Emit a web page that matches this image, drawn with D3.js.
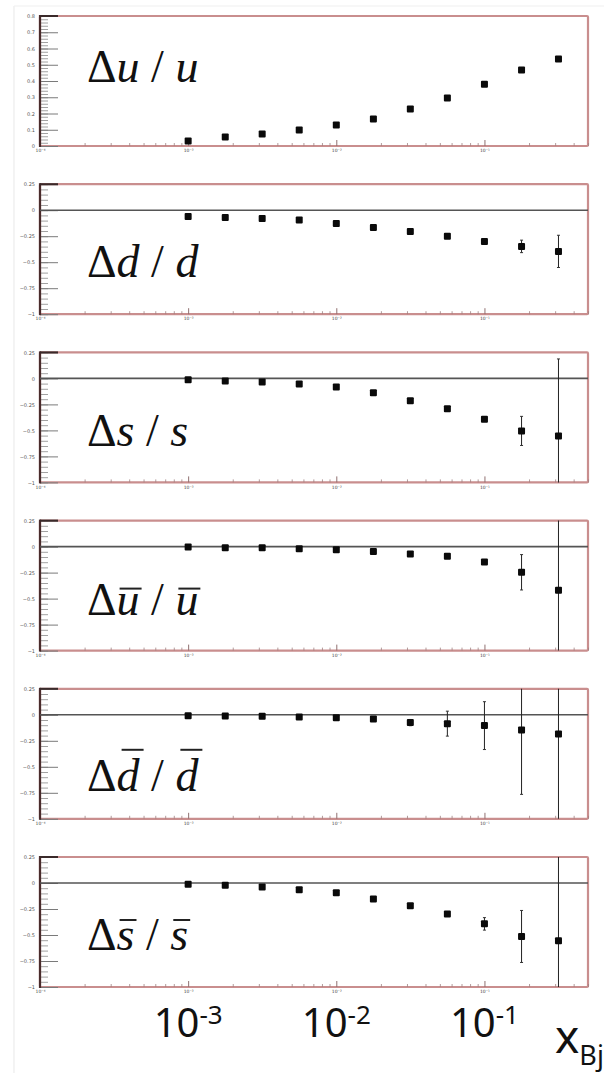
<!DOCTYPE html>
<html>
<head>
<meta charset="utf-8">
<script src="https://cdn.jsdelivr.net/npm/d3@7"></script>
<style>
  html, body { margin: 0; padding: 0; background: #fff; }
  svg { display: block; }
</style>
</head>
<body>
<svg id="chart" width="604" height="1073"></svg>
<script>
// Bjorken-x bins shared by every panel
const xBj = [0.001, 0.00178, 0.00316, 0.00562, 0.01, 0.0178, 0.0316, 0.0562, 0.1, 0.178, 0.316];

// Panel titles: base letter and whether it carries an antiquark bar
const panelLetters = ["u", "d", "s", "u", "d", "s"];
const panelBars = [false, false, false, true, true, true];

// Relative variations per flavour
const du_u   = [0.031, 0.055, 0.074, 0.098, 0.129, 0.166, 0.228, 0.295, 0.380, 0.468, 0.535];
const dd_d   = [-0.060, -0.070, -0.079, -0.095, -0.128, -0.167, -0.205, -0.251, -0.302, -0.348, -0.396];
const ds_s   = [-0.014, -0.024, -0.034, -0.053, -0.082, -0.139, -0.216, -0.293, -0.392, -0.505, -0.553];
const dub_ub = [-0.004, -0.010, -0.012, -0.020, -0.030, -0.048, -0.070, -0.093, -0.147, -0.247, -0.420];
const ddb_db = [-0.010, -0.012, -0.015, -0.020, -0.028, -0.040, -0.075, -0.085, -0.104, -0.145, -0.184];
const dsb_sb = [-0.013, -0.022, -0.039, -0.064, -0.093, -0.155, -0.219, -0.297, -0.393, -0.514, -0.555];

// Uncertainties (0 = no visible bar)
const err_u   = [0, 0, 0, 0, 0, 0, 0, 0, 0, 0, 0];
const err_d   = [0, 0, 0, 0, 0, 0, 0, 0, 0, 0.06, 0.155];
const err_s   = [0, 0, 0, 0, 0, 0, 0, 0, 0, 0.14, 0.74];
const err_ub  = [0, 0, 0, 0, 0, 0, 0, 0, 0, 0.17, 1.0];
const err_db  = [0, 0, 0, 0, 0, 0, 0.03, 0.12, 0.23, 0.62, 1.2];
const err_sb  = [0, 0, 0, 0, 0, 0, 0, 0, 0.06, 0.25, 1.0];

const values = [du_u, dd_d, ds_s, dub_ub, ddb_db, dsb_sb];
const errors = [err_u, err_d, err_s, err_ub, err_db, err_sb];

// Vertical axis settings
const yDomainTop = [0, 0.8];
const yTicksTop = [0, 0.1, 0.2, 0.3, 0.4, 0.5, 0.6, 0.7, 0.8];
const yDomainRest = [-1, 0.25];
const yTicksRest = [-1, -0.75, -0.5, -0.25, 0, 0.25];

// Horizontal axis
const xDomain = [1e-4, 0.5];
const xDecades = [1e-4, 1e-3, 1e-2, 1e-1];
const bigDecades = [{v: 1e-3, e: "-3"}, {v: 1e-2, e: "-2"}, {v: 1e-1, e: "-1"}];

// superscript digits for the small decade labels
const supDigits = ["\u2070", "\u00B9", "\u00B2", "\u00B3", "\u2074", "\u2075", "\u2076", "\u2077", "\u2078", "\u2079"];

const svg = d3.select("#chart");

const left = 40, right = 588;
const panelH = 130, panelStep = 168.2, firstTop = 16;
const labelBaselines = [66, 93, 94, 94, 102, 93];
const x = d3.scaleLog().domain(xDomain).range([left, right]);

// layers in paint order
const pageLayer = svg.append("g");
const panelLayer = svg.append("g");
const titleLayer = svg.append("g");
const markLayer = svg.append("g");
const bottomLayer = svg.append("g");

// panel titles: upright delta and slash, italic flavour letters
values.forEach((vals, i) => {
  const top = firstTop + i * panelStep;
  const base = top + labelBaselines[i];
  const parts = [
    {s: "\u0394", it: false},
    {s: panelLetters[i], it: true},
    {s: " / ", it: false},
    {s: panelLetters[i], it: true}
  ];
  let cx = 87;
  parts.forEach(p => {
    const tx = titleLayer.append("text").attr("x", cx).attr("y", base)
      .attr("font-family", "Liberation Serif").attr("font-size", 46)
      .attr("font-style", p.it ? "italic" : "normal")
      .style("white-space", "pre").attr("fill", "#111").text(p.s);
    const w = tx.node().getComputedTextLength();
    if (p.it && panelBars[i]) {
      const barY = panelLetters[i] === "d" ? base - 41 : base - (panelLetters[i] === "u" ? 26 : 30);
      const shift = panelLetters[i] === "d" ? 5 : 3;
      titleLayer.append("line").attr("x1", cx + shift).attr("x2", cx + w + shift - 1)
        .attr("y1", barY).attr("y2", barY).attr("stroke", "#222").attr("stroke-width", 2);
    }
    cx += w;
  });
});

// faint page frame
pageLayer.append("line").attr("x1", 14).attr("x2", 14).attr("y1", 6).attr("y2", 1073)
  .attr("stroke", "#ececec").attr("stroke-width", 1.2);
pageLayer.append("line").attr("x1", 14).attr("x2", 604).attr("y1", 6).attr("y2", 6)
  .attr("stroke", "#f0f0f0").attr("stroke-width", 1.2);

const minorX = [];
for (const dec of [1e-4, 1e-3, 1e-2, 1e-1]) {
  for (let k = 2; k <= 9; k++) {
    const v = dec * k;
    if (v <= xDomain[1]) minorX.push(v);
  }
}

values.forEach((vals, i) => {
  const top = firstTop + i * panelStep;
  const bottom = top + panelH;
  const isTop = i === 0;
  const y = d3.scaleLinear().domain(isTop ? yDomainTop : yDomainRest).range([bottom, top]);
  const majors = isTop ? yTicksTop : yTicksRest;
  const step = isTop ? 0.02 : 0.05;
  const dom = y.domain();
  const minors = d3.range(Math.round((dom[1] - dom[0]) / step) + 1).map(k => +(dom[0] + k * step).toFixed(4));

  const g = panelLayer.append("g");
  const clipId = "clip" + i;
  g.append("clipPath").attr("id", clipId).append("rect")
    .attr("x", left).attr("y", top).attr("width", right - left).attr("height", panelH);

  // frame
  g.append("rect").attr("x", left).attr("y", top).attr("width", right - left).attr("height", panelH)
    .attr("fill", "#fff").attr("stroke", "#c98e8e").attr("stroke-width", 2.2).attr("rx", 1);

  // left axis: minor and major ticks pointing inward
  const minorAxis = g.append("g").attr("transform", `translate(${left},0)`)
    .call(d3.axisRight(y).tickValues(minors).tickSize(8).tickFormat(""));
  minorAxis.selectAll("line").attr("stroke", "#8a8a8a").attr("stroke-width", 0.8);
  minorAxis.select(".domain").remove();
  const majorAxis = g.append("g").attr("transform", `translate(${left},0)`)
    .call(d3.axisRight(y).tickValues(majors).tickSize(18).tickFormat(""));
  majorAxis.selectAll("line").attr("stroke", "#7a7a7a").attr("stroke-width", 1);
  majorAxis.select(".domain").remove();

  // left tick labels
  const lab = g.append("g").attr("transform", `translate(${left},0)`)
    .call(d3.axisLeft(y).tickValues(majors).tickSize(0).tickPadding(5)
      .tickFormat(d => d3.format("~g")(d)));
  lab.select(".domain").remove();
  lab.selectAll("text").attr("font-size", 5).attr("font-family", "DejaVu Sans").attr("fill", "#555");

  // bottom axis ticks pointing upward
  const bx = g.append("g").attr("transform", `translate(0,${bottom})`)
    .call(d3.axisTop(x).tickValues(minorX).tickSize(3).tickFormat(""));
  bx.selectAll("line").attr("stroke", "#a08080").attr("stroke-width", 0.8);
  bx.select(".domain").remove();
  const bxm = g.append("g").attr("transform", `translate(0,${bottom})`)
    .call(d3.axisTop(x).tickValues(xDecades).tickSize(6).tickFormat(""));
  bxm.selectAll("line").attr("stroke", "#907070").attr("stroke-width", 1);
  bxm.select(".domain").remove();
  const bl = g.append("g").attr("transform", `translate(0,${bottom})`)
    .call(d3.axisBottom(x).tickValues(xDecades).tickSize(0).tickPadding(3)
      .tickFormat(d => "10\u207B" + String(-Math.round(Math.log10(d))).split("").map(c => supDigits[+c]).join("")));
  bl.select(".domain").remove();
  bl.selectAll("text").attr("font-size", 4.5).attr("font-family", "DejaVu Sans").attr("fill", "#444");

  // axis lines
  g.append("line").attr("x1", left).attr("x2", left).attr("y1", top - 1).attr("y2", bottom + 1)
    .attr("stroke", "#4a2c2c").attr("stroke-width", 2.2);
  g.append("line").attr("x1", left).attr("x2", left + 18).attr("y1", top).attr("y2", top)
    .attr("stroke", "#3a2a2a").attr("stroke-width", 2);

  // zero reference line
  if (!isTop) {
    g.append("line").attr("x1", left).attr("x2", right).attr("y1", y(0)).attr("y2", y(0))
      .attr("stroke", "#555").attr("stroke-width", 1.6);
  }

  // error bars and markers
  const marks = markLayer.append("g").attr("clip-path", `url(#${clipId})`);
  const errs = errors[i];
  const pts = xBj.map((xv, k) => ({x: xv, v: vals[k], e: errs[k]}));
  const withErr = pts.filter(p => p.e > 0);
  marks.selectAll("line.err").data(withErr).join("line")
    .attr("class", "err")
    .attr("x1", p => x(p.x)).attr("x2", p => x(p.x))
    .attr("y1", p => y(p.v + p.e)).attr("y2", p => y(p.v - p.e))
    .attr("stroke", "#222").attr("stroke-width", 1);
  marks.selectAll("line.capT").data(withErr).join("line")
    .attr("class", "capT")
    .attr("x1", p => x(p.x) - 1.5).attr("x2", p => x(p.x) + 1.5)
    .attr("y1", p => y(p.v + p.e)).attr("y2", p => y(p.v + p.e))
    .attr("stroke", "#333").attr("stroke-width", 1);
  marks.selectAll("line.capB").data(withErr).join("line")
    .attr("class", "capB")
    .attr("x1", p => x(p.x) - 1.5).attr("x2", p => x(p.x) + 1.5)
    .attr("y1", p => y(p.v - p.e)).attr("y2", p => y(p.v - p.e))
    .attr("stroke", "#333").attr("stroke-width", 1);
  marks.selectAll("rect.pt").data(pts).join("rect")
    .attr("class", "pt")
    .attr("x", p => x(p.x) - 3.5).attr("y", p => y(p.v) - 3.5)
    .attr("width", 7).attr("height", 7).attr("rx", 1)
    .attr("fill", "#0a0a0a");
});

// large decade labels under the last panel
bigDecades.forEach(d => {
  const t = bottomLayer.append("text").attr("x", x(d.v)).attr("y", 1037)
    .attr("text-anchor", "middle").attr("font-family", "Noto Sans").attr("fill", "#111");
  t.append("tspan").attr("font-size", 40).text("10");
  t.append("tspan").attr("font-size", 26).attr("dy", -13).text(d.e);
});

// axis title
const xt = bottomLayer.append("text").attr("x", 555).attr("y", 1053)
  .attr("font-family", "Noto Sans").attr("fill", "#111");
xt.append("tspan").attr("font-size", 46).text("x");
xt.append("tspan").attr("font-size", 27).attr("dy", 12).text("Bj");
</script>
</body>
</html>
